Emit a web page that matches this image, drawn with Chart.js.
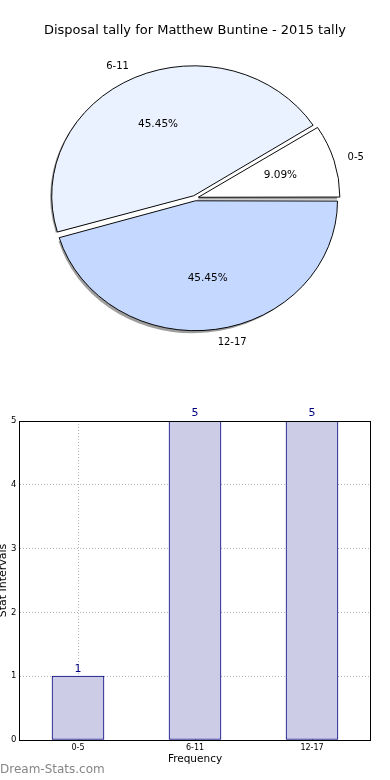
<!DOCTYPE html>
<html>
<head>
<meta charset="utf-8">
<script src="https://cdn.jsdelivr.net/npm/chart.js@4.4.0/dist/chart.umd.min.js"></script>
<style>
  html, body { margin: 0; padding: 0; background: #fff; }
  body { width: 390px; height: 780px; position: relative; overflow: hidden; font-family: 'DejaVu Sans', sans-serif; }
  #pieChart { position: absolute; left: 0; top: 0; }
  #barChart { position: absolute; left: 0; top: 390px; }
  #watermark { position: absolute; left: 0; top: 762px; font-size: 12px; line-height: 14px; color: #868686; }
</style>
</head>
<body>
<canvas id="pieChart" width="390" height="348"></canvas>
<canvas id="barChart" width="390" height="390"></canvas>
<div id="watermark">Dream-Stats.com</div>
<script>
// Chart data
const chartTitle = 'Disposal tally for Matthew Buntine - 2015 tally';
const intervals = ['0-5', '6-11', '12-17'];
const frequencies = [1, 5, 5];
const yTicks = [0, 1, 2, 3, 4, 5];
const pieColors = ['#ffffff', '#eaf1ff', '#c5d8ff'];

Chart.defaults.color = '#000';
Chart.defaults.font.family = '"DejaVu Sans", sans-serif';

// matplotlib draws the pie squashed, so we flatten it vertically
const PIE_SCALE_Y = 128 / 140;
const PIE_RADIUS = 140;
const EXPLODE = 5;

// same translation the ArcElement applies for its offset
function explodeShift(arc) {
  const offset = (arc.options.offset || 0) / 4;
  const fix = 1 - Math.sin(Math.min(Math.PI, arc.circumference || 0));
  return offset + offset * fix;
}

function offsetFor(value, total) {
  const circ = value / total * Math.PI * 2;
  return 4 * EXPLODE / (2 - Math.sin(Math.min(Math.PI, circ)));
}

function piePoint(arc, dist) {
  const mid = (arc.startAngle + arc.endAngle) / 2;
  const r = explodeShift(arc) + dist * arc.outerRadius;
  return {
    x: arc.x + Math.cos(mid) * r,
    y: arc.y + Math.sin(mid) * r * PIE_SCALE_Y,
    left: Math.cos(mid) < 0
  };
}

// pie goes counter-clockwise from 3 o'clock in the original, Chart.js goes clockwise
const pieLabels = intervals.slice().reverse();
const pieValues = frequencies.slice().reverse();
const pieFills = pieColors.slice().reverse();
const pieTotal = pieValues.reduce((a, b) => a + b, 0);

const pieShape = {
  id: 'pieShape',
  beforeDatasetsDraw(chart) {
    const ctx = chart.ctx;
    const arcs = chart.getDatasetMeta(0).data;
    const cy = arcs[0].y;
    ctx.save();
    ctx.translate(0, cy);
    ctx.scale(1, PIE_SCALE_Y);
    ctx.translate(0, -cy);

    // drop shadow under all wedges
    ctx.save();
    ctx.translate(-2.8, 2.6 / PIE_SCALE_Y);
    ctx.fillStyle = 'rgba(40, 40, 40, 0.45)';
    arcs.forEach(arc => {
      const mid = (arc.startAngle + arc.endAngle) / 2;
      const s = explodeShift(arc);
      const x = arc.x + Math.cos(mid) * s;
      const y = arc.y + Math.sin(mid) * s;
      ctx.beginPath();
      ctx.moveTo(x, y);
      ctx.arc(x, y, arc.outerRadius, arc.startAngle, arc.endAngle);
      ctx.closePath();
      ctx.fill();
    });
    ctx.restore();
  },
  afterDatasetsDraw(chart) {
    const ctx = chart.ctx;
    ctx.restore();

    const arcs = chart.getDatasetMeta(0).data;
    ctx.save();
    ctx.fillStyle = '#000';
    ctx.textBaseline = 'middle';
    arcs.forEach((arc, i) => {
      const lp = piePoint(arc, 1.1);
      ctx.font = '10px "DejaVu Sans"';
      ctx.textAlign = lp.left ? 'right' : 'left';
      ctx.fillText(pieLabels[i], lp.x, lp.y);

      const pp = piePoint(arc, 0.6);
      ctx.font = '10.5px "DejaVu Sans"';
      ctx.textAlign = 'center';
      ctx.fillText((pieValues[i] / pieTotal * 100).toFixed(2) + '%', pp.x, pp.y);
    });
    ctx.restore();
  }
};

new Chart(document.getElementById('pieChart'), {
  type: 'pie',
  data: {
    labels: pieLabels,
    datasets: [{
      data: pieValues,
      backgroundColor: pieFills,
      borderColor: '#000',
      borderWidth: 1,
      borderJoinStyle: 'miter',
      offset: pieValues.map(v => offsetFor(v, pieTotal))
    }]
  },
  options: {
    responsive: false,
    animation: false,
    devicePixelRatio: 1,
    events: [],
    rotation: 90,
    radius: PIE_RADIUS,
    layout: { padding: 0 },
    plugins: {
      legend: { display: false },
      tooltip: { enabled: false },
      title: {
        display: true,
        text: chartTitle,
        color: '#000',
        font: { size: 13, weight: 'normal', lineHeight: 1.2 },
        padding: { top: 22.7, bottom: 10 }
      }
    }
  },
  plugins: [pieShape]
});

// Bar chart helpers
const barValueLabels = {
  id: 'barValueLabels',
  afterDatasetsDraw(chart) {
    const ctx = chart.ctx;
    const meta = chart.getDatasetMeta(0);
    ctx.save();
    ctx.font = '11px "DejaVu Sans"';
    ctx.fillStyle = '#000080';
    ctx.textAlign = 'center';
    ctx.textBaseline = 'bottom';
    meta.data.forEach((bar, i) => {
      ctx.fillText(String(frequencies[i]), bar.x, bar.y - 2);
    });
    ctx.restore();
  }
};

// black box round the plot area, snapped to whole pixels
const plotFrame = {
  id: 'plotFrame',
  afterDraw(chart) {
    const {ctx, chartArea} = chart;
    const l = Math.floor(chartArea.left) + 0.5;
    const t = Math.floor(chartArea.top) + 0.5;
    const r = Math.floor(chartArea.right) + 0.5;
    const b = Math.floor(chartArea.bottom) + 0.5;
    ctx.save();
    ctx.strokeStyle = '#000';
    ctx.lineWidth = 1;
    ctx.strokeRect(l, t, r - l, b - t);
    ctx.restore();
  }
};

new Chart(document.getElementById('barChart'), {
  type: 'bar',
  data: {
    labels: intervals,
    datasets: [{
      data: frequencies,
      backgroundColor: '#cccce6',
      borderColor: '#000080',
      borderWidth: 1,
      borderSkipped: false,
      barThickness: 52
    }]
  },
  options: {
    responsive: false,
    animation: false,
    devicePixelRatio: 1,
    events: [],
    layout: { padding: { top: 31, right: 19.5, left: 0, bottom: 0 } },
    plugins: {
      legend: { display: false },
      tooltip: { enabled: false }
    },
    scales: {
      x: {
        z: 1,
        offset: true,
        grid: { offset: false, color: '#b4b4b4', lineWidth: 1, drawTicks: false },
        border: { display: false, dash: [1, 2] },
        ticks: { font: { size: 8 }, padding: 3, color: '#000' },
        title: {
          display: true,
          text: 'Frequency',
          font: { size: 10.5, lineHeight: 1 },
          padding: { top: 0, bottom: 15.25 }
        },
        afterFit(scale) { scale.height = 40; }
      },
      y: {
        z: 1,
        min: 0,
        max: 5,
        grid: { color: '#b4b4b4', lineWidth: 1, drawTicks: false },
        border: { display: false, dash: [1, 2] },
        ticks: { font: { size: 8.5 }, padding: 3, color: '#000' },
        afterBuildTicks(scale) { scale.ticks = yTicks.map(v => ({ value: v })); },
        title: {
          display: true,
          text: 'Stat Intervals',
          font: { size: 11, lineHeight: 1 },
          padding: { top: -2.5, bottom: 0 }
        },
        afterFit(scale) { scale.width = 19.5; }
      }
    }
  },
  plugins: [barValueLabels, plotFrame]
});
</script>
</body>
</html>
